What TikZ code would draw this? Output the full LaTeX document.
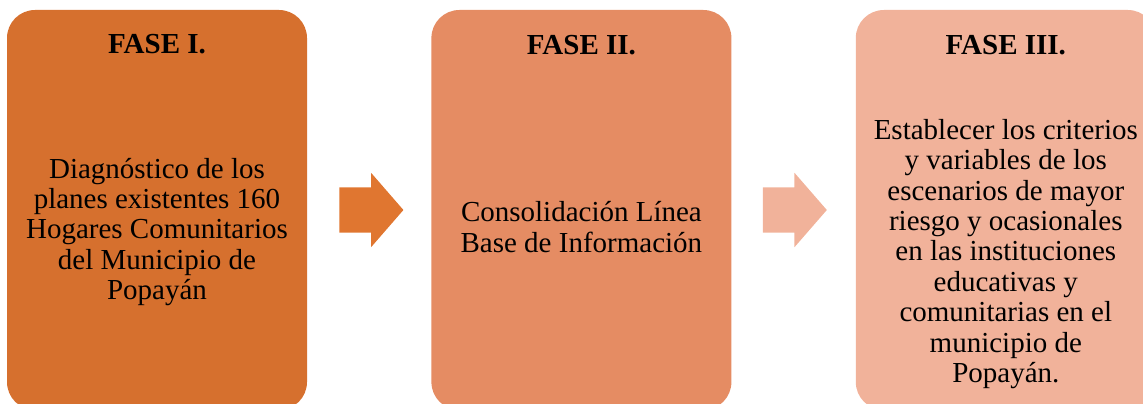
\documentclass[tikz,border=0pt]{standalone}
\usepackage{fontspec}
\setmainfont{Liberation Serif}
\usetikzlibrary{positioning,shapes.arrows}
\definecolor{fase1c}{RGB}{214,112,46}
\definecolor{fase2c}{RGB}{229,140,99}
\definecolor{fase3c}{RGB}{241,178,154}
\definecolor{flecha1c}{RGB}{224,118,48}

\begin{document}
\begin{tikzpicture}[x=1pt, y=-1pt, node distance=124pt,
    caja/.style={rectangle, rounded corners=28pt, minimum width=300pt, minimum height=400pt, inner sep=0pt},
    titulo/.style={anchor=base, inner sep=0pt, font=\fontsize{29pt}{30.4pt}\selectfont\bfseries},
    texto/.style={align=center, inner sep=0pt, font=\fontsize{29pt}{30.4pt}\selectfont},
    flecha/.style={single arrow, minimum height=64pt, inner xsep=0pt, inner ysep=22.5pt, single arrow head extend=14.5pt, single arrow tip angle=98}]
    \useasboundingbox (0,0) rectangle (1143,404);
    \node[caja, fill=fase1c] (fase1) at (157,210) {};
    \node[caja, fill=fase2c] (fase2) [right=of fase1] {};
    \node[caja, fill=fase3c] (fase3) [right=of fase2] {};
    \node[flecha, fill=flecha1c] (f12) [right=32pt of fase1] {};
    \node[flecha, fill=fase3c] (f23) [right=31pt of fase2] {};

    \node[titulo] (t1) at ([yshift=-44pt]fase1.north) {FASE I.};
    \node[titulo] (t2) at ([yshift=-45pt]fase2.north) {FASE II.};
    \node[titulo] (t3) at ([yshift=-45pt]fase3.north) {FASE III.};

    \node[texto] (d1) at ([yshift=-22pt]fase1.center) {Diagnóstico de los\\planes existentes 160\\Hogares Comunitarios\\del Municipio de\\Popayán};
    \node[texto] (d2) at ([yshift=-17pt]fase2.center) {Consolidación Línea\\Base de Información};
    \node[texto] (d3) at ([yshift=-44pt]fase3.center) {Establecer los criterios\\y variables de los\\escenarios de mayor\\riesgo y ocasionales\\en las instituciones\\educativas y\\comunitarias en el\\municipio de\\Popayán.};
  \end{tikzpicture}
\end{document}
